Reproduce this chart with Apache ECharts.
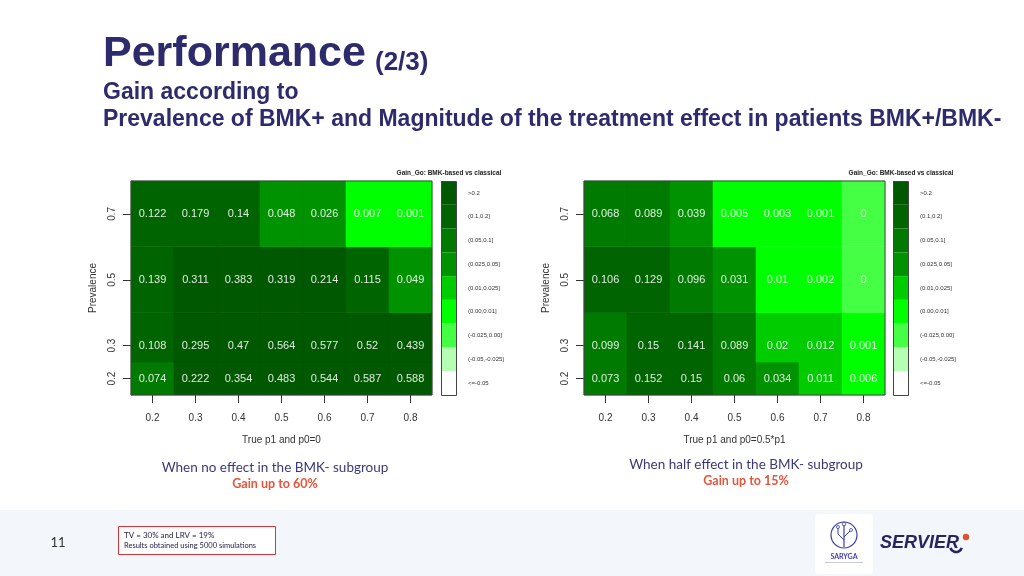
<!DOCTYPE html>
<html>
<head>
<meta charset="utf-8">
<title>Performance (2/3)</title>
<script src="https://cdn.jsdelivr.net/npm/echarts@6/dist/echarts.min.js"></script>
<style>
  html, body { margin: 0; padding: 0; background: #fff; }
  #chart { width: 1024px; height: 576px; }
</style>
</head>
<body>
<div id="chart"></div>
<script>
// axes
const pValues = [0.2, 0.3, 0.4, 0.5, 0.6, 0.7, 0.8];
const prevalence = [0.2, 0.3, 0.5, 0.7];

// gain, one row per prevalence (0.2, 0.3, 0.5, 0.7), one column per p1
const gainNoEffect = [
  [0.074, 0.222, 0.354, 0.483, 0.544, 0.587, 0.588],
  [0.108, 0.295, 0.47, 0.564, 0.577, 0.52, 0.439],
  [0.139, 0.311, 0.383, 0.319, 0.214, 0.115, 0.049],
  [0.122, 0.179, 0.14, 0.048, 0.026, 0.007, 0.001]
];
const gainHalfEffect = [
  [0.073, 0.152, 0.15, 0.06, 0.034, 0.011, 0.006],
  [0.099, 0.15, 0.141, 0.089, 0.02, 0.012, 0.001],
  [0.106, 0.129, 0.096, 0.031, 0.01, 0.002, 0],
  [0.068, 0.089, 0.039, 0.005, 0.003, 0.001, 0]
];

// colour classes of the legend (top to bottom)
const classLabels = ['>0.2', '(0.1,0.2]', '(0.05,0.1]', '(0.025,0.05]', '(0.01,0.025]',
  '(0.00,0.01]', '(-0.025,0.00]', '(-0.05,-0.025]', '<=-0.05'];
const classBreaks = [0.2, 0.1, 0.05, 0.025, 0.01, 0, -0.025, -0.05];
const classColors = ['#005800', '#006400', '#007a00', '#009200', '#00cc00',
  '#00ff00', '#44ff44', '#b4ffb4', '#ffffff'];

const NAVY = '#2d2b6b';

function toTriples(mat) {
  const out = [];
  mat.forEach((row, i) => {
    row.forEach((v, j) => out.push([pValues[j], prevalence[i], v]));
  });
  return out;
}

// cell edges at midpoints, like R image()
const yEdges = [prevalence[0] - (prevalence[1] - prevalence[0]) / 2];
for (let i = 0; i < prevalence.length - 1; i++) {
  yEdges.push((prevalence[i] + prevalence[i + 1]) / 2);
}
yEdges.push(prevalence[prevalence.length - 1] + (prevalence[prevalence.length - 1] - prevalence[prevalence.length - 2]) / 2);
const xHalf = (pValues[1] - pValues[0]) / 2;

function renderCell(params, api) {
  const xv = api.value(0), yv = api.value(1), v = api.value(2);
  const yi = prevalence.indexOf(yv);
  const tl = api.coord([xv - xHalf, yEdges[yi + 1]]);
  const br = api.coord([xv + xHalf, yEdges[yi]]);
  const c = api.coord([xv, yv]);
  const col = api.visual('color');
  return {
    type: 'group',
    children: [
      {
        type: 'rect',
        shape: { x: tl[0], y: tl[1], width: br[0] - tl[0], height: br[1] - tl[1] },
        style: { fill: col, stroke: col, lineWidth: 0.6 }
      },
      {
        type: 'text',
        x: c[0], y: c[1],
        style: {
          text: String(v), fill: 'rgba(255,255,255,0.88)',
          font: '11px "Liberation Sans", Arial, sans-serif',
          align: 'center', verticalAlign: 'middle'
        }
      }
    ]
  };
}

function makePieces() {
  const pieces = [];
  classLabels.forEach((lab, i) => {
    const p = { label: lab, color: classColors[i] };
    if (i === 0) p.gt = classBreaks[0];
    else if (i === classLabels.length - 1) p.lte = classBreaks[i - 1];
    else { p.gt = classBreaks[i]; p.lte = classBreaks[i - 1]; }
    pieces.push(p);
  });
  return pieces;
}

const plots = [
  { left: 131, legendX: 441, xName: 'True p1 and p0=0', data: gainNoEffect },
  { left: 584, legendX: 893, xName: 'True p1 and p0=0.5*p1', data: gainHalfEffect }
];
const gridW = 301, gridH = 214, gridTop = 181;

const axisFont = { fontFamily: '"Liberation Sans", Arial, sans-serif', color: '#333' };

const option = {
  animation: false,
  backgroundColor: '#ffffff',
  tooltip: { trigger: 'item', formatter: p => 'p1 ' + p.value[0] + ', prevalence ' + p.value[1] + ': ' + p.value[2] },
  grid: plots.map(p => ({
    left: p.left, top: gridTop, width: gridW, height: gridH,
    show: true, z: 5, borderColor: '#444', borderWidth: 1, backgroundColor: 'transparent'
  })),
  xAxis: plots.map((p, i) => ({
    type: 'value', gridIndex: i, min: 0.15, max: 0.85,
    name: p.xName, nameLocation: 'middle', nameGap: 40,
    nameTextStyle: Object.assign({ fontSize: 10 }, axisFont),
    axisLine: { show: false },
    splitLine: { show: false },
    axisTick: { show: true, length: 8, customValues: pValues, lineStyle: { color: '#333' } },
    axisLabel: Object.assign({ customValues: pValues, margin: 18, fontSize: 10, formatter: v => String(v) }, axisFont)
  })),
  yAxis: plots.map((p, i) => ({
    type: 'value', gridIndex: i, min: yEdges[0], max: yEdges[yEdges.length - 1],
    name: 'Prevalence', nameLocation: 'middle', nameGap: 33, nameRotate: 90,
    nameTextStyle: Object.assign({ fontSize: 10 }, axisFont),
    axisLine: { show: false },
    splitLine: { show: false },
    axisTick: { show: true, length: 8, customValues: prevalence, lineStyle: { color: '#333' } },
    axisLabel: Object.assign({ customValues: prevalence, rotate: 90, margin: 14, fontSize: 10, formatter: v => String(v) }, axisFont)
  })),
  visualMap: plots.map((p, i) => ({
    type: 'piecewise', seriesIndex: i, dimension: 2,
    orient: 'vertical', align: 'left', left: p.legendX, top: gridTop, padding: 0,
    itemWidth: 15, itemHeight: gridH / 9, itemGap: 0, itemSymbol: 'rect',
    textGap: 12, pieces: makePieces(),
    textStyle: { fontSize: 6, color: '#333', fontFamily: '"Liberation Sans", Arial, sans-serif' }
  })),
  series: plots.map((p, i) => ({
    type: 'custom', xAxisIndex: i, yAxisIndex: i,
    renderItem: renderCell, data: toTriples(p.data)
  })),
  graphic: [
    // headings
    { type: 'text', left: 103, top: 33, style: { text: 'Performance', fill: NAVY, font: 'bold 43px "Liberation Sans", Arial, sans-serif' } },
    { type: 'text', left: 375, top: 50, style: { text: '(2/3)', fill: NAVY, font: 'bold 26px "Liberation Sans", Arial, sans-serif' } },
    { type: 'text', left: 103, top: 81, style: { text: 'Gain according to', fill: NAVY, font: 'bold 23px "Liberation Sans", Arial, sans-serif' } },
    { type: 'text', left: 103, top: 108, style: { text: 'Prevalence of BMK+ and Magnitude of the treatment effect in patients BMK+/BMK-', fill: NAVY, font: 'bold 23px "Liberation Sans", Arial, sans-serif' } },

    // legend frames and titles
    ...plots.map(p => ({ type: 'rect', z: 10, shape: { x: p.legendX + 0.5, y: gridTop + 0.5, width: 15, height: gridH }, style: { fill: 'none', stroke: '#444', lineWidth: 1 } })),
    ...plots.map(p => ({ type: 'text', z: 10, x: p.legendX + 8, y: 173, style: { text: 'Gain_Go: BMK-based vs classical', fill: '#222', align: 'center', verticalAlign: 'middle', font: 'bold 6.5px "Liberation Sans", Arial, sans-serif' } })),

    // captions
    { type: 'text', x: 275, y: 468, style: { text: 'When no effect in the BMK- subgroup', fill: '#3b3878', align: 'center', verticalAlign: 'middle', font: '13.5px Lato, sans-serif' } },
    { type: 'text', x: 275, y: 484, style: { text: 'Gain up to 60%', fill: '#e5553b', align: 'center', verticalAlign: 'middle', font: 'bold 12.5px Lato, sans-serif' } },
    { type: 'text', x: 746, y: 465, style: { text: 'When half effect in the BMK- subgroup', fill: '#3b3878', align: 'center', verticalAlign: 'middle', font: '13.5px Lato, sans-serif' } },
    { type: 'text', x: 746, y: 481, style: { text: 'Gain up to 15%', fill: '#e5553b', align: 'center', verticalAlign: 'middle', font: 'bold 12.5px Lato, sans-serif' } },

    // footer band
    { type: 'rect', z: -1, shape: { x: 0, y: 510, width: 1024, height: 66 }, style: { fill: '#f3f6fb' } },
    { type: 'text', x: 58, y: 543, style: { text: '11', fill: '#333', align: 'center', verticalAlign: 'middle', font: '13px Lato, sans-serif' } },
    { type: 'rect', shape: { x: 118.5, y: 526.5, width: 157, height: 28 }, style: { fill: '#ffffff', stroke: '#d9343a', lineWidth: 1 } },
    { type: 'text', x: 124, y: 535, style: { text: 'TV = 30% and LRV = 19%', fill: '#1e1c4a', verticalAlign: 'middle', font: '8px Lato, sans-serif' } },
    { type: 'text', x: 124, y: 546, style: { text: 'Results obtained using 5000 simulations', fill: '#1e1c4a', verticalAlign: 'middle', font: '7.5px Lato, sans-serif' } },

    // SARYGA logo
    { type: 'rect', shape: { x: 815, y: 514, width: 58, height: 60, r: 3 }, style: { fill: '#ffffff' } },
    { type: 'circle', shape: { cx: 844, cy: 535, r: 13 }, style: { fill: 'none', stroke: '#3d3db5', lineWidth: 1.2 } },
    { type: 'line', shape: { x1: 844, y1: 547, x2: 844, y2: 525 }, style: { stroke: '#3d3db5', lineWidth: 1.2 } },
    { type: 'polyline', shape: { points: [[844, 540], [838, 534], [838, 528]] }, style: { stroke: '#3d3db5', fill: 'none', lineWidth: 1 } },
    { type: 'polyline', shape: { points: [[844, 537], [850, 531]] }, style: { stroke: '#3d3db5', fill: 'none', lineWidth: 1 } },
    { type: 'circle', shape: { cx: 844, cy: 524, r: 1.8 }, style: { fill: 'none', stroke: '#3d3db5', lineWidth: 0.8 } },
    { type: 'circle', shape: { cx: 838, cy: 527, r: 1.5 }, style: { fill: 'none', stroke: '#3d3db5', lineWidth: 0.8 } },
    { type: 'circle', shape: { cx: 851, cy: 530, r: 1.5 }, style: { fill: 'none', stroke: '#3d3db5', lineWidth: 0.8 } },
    { type: 'text', x: 844, y: 557, style: { text: 'SARYGA', fill: '#3d3db5', align: 'center', verticalAlign: 'middle', font: 'bold 7px Lato, sans-serif' } },
    { type: 'rect', shape: { x: 825, y: 562, width: 38, height: 1 }, style: { fill: '#c8c8d8' } },

    // SERVIER logo
    { type: 'text', x: 880, y: 543, style: { text: 'SERVIER', fill: '#27245f', verticalAlign: 'middle', font: 'italic bold 18px "Liberation Sans", Arial, sans-serif' } },
    { type: 'arc', shape: { cx: 956, cy: 546, r: 6, startAngle: 0.3, endAngle: 2.8 }, style: { stroke: '#27245f', fill: 'none', lineWidth: 2.6 } },
    { type: 'circle', shape: { cx: 966, cy: 537, r: 3.2 }, style: { fill: '#e0522e' } }
  ]
};

const chart = echarts.init(document.getElementById('chart'));
chart.setOption(option);
</script>
</body>
</html>
